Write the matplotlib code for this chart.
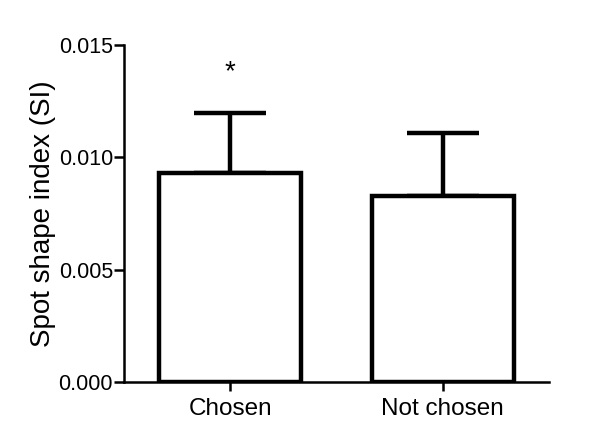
import numpy as np
import matplotlib.pyplot as plt

plt.rcParams['font.family'] = ['Liberation Sans', 'DejaVu Sans']

# data
groups = ["Chosen", "Not chosen"]
means = [0.0093, 0.0083]
sem_upper = [0.0027, 0.0028]
star_y = 0.0138

fig = plt.figure(figsize=(6.08, 4.43), dpi=100)
ax = fig.add_axes([0.204, 0.1377, 0.699, 0.7603])

x = np.arange(len(groups))
ax.bar(x, means, width=0.67, color='white', edgecolor='black', linewidth=3.2, zorder=2)
ax.errorbar(x, means, yerr=[np.zeros(len(means)), sem_upper], fmt='none',
            ecolor='black', elinewidth=3.2, capsize=26, capthick=3.2, zorder=1)

ax.text(x[0], star_y, "*", ha='center', va='center', fontsize=20)

ax.set_xlim(-0.5, 1.5)
ax.set_ylim(0, 0.015)
ax.set_yticks([0.0, 0.005, 0.010, 0.015])
ax.set_yticklabels(["0.000", "0.005", "0.010", "0.015"])
ax.set_xticks(x)
ax.set_xticklabels(groups, fontsize=17.5)
ax.tick_params(axis='y', labelsize=15.5, length=7, width=1.8, pad=1)
ax.tick_params(axis='x', length=6.5, width=1.8, pad=5)
ax.set_ylabel("Spot shape index (SI)", fontsize=20, labelpad=2)

for s in ['top', 'right']:
    ax.spines[s].set_visible(False)
for s in ['left', 'bottom']:
    ax.spines[s].set_linewidth(1.8)

fig.savefig("out.png", dpi=100)
